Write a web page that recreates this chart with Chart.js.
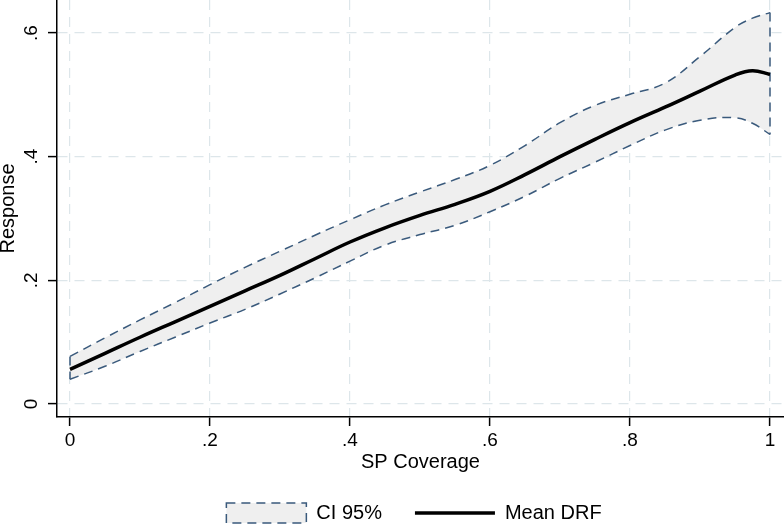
<!DOCTYPE html>
<html>
<head>
<meta charset="utf-8">
<script src="https://cdn.jsdelivr.net/npm/chart.js@4"></script>
<style>
  html, body { margin: 0; padding: 0; background: #fff; }
  #wrap { width: 784px; height: 524px; }
</style>
</head>
<body>
<div id="wrap"><canvas id="myChart"></canvas></div>
<script>
// values
const coverage = [0, 0.05, 0.1, 0.15, 0.2, 0.25, 0.3, 0.35, 0.4, 0.45, 0.5, 0.55, 0.6, 0.65, 0.7, 0.75, 0.8, 0.85, 0.9, 0.95, 0.975, 1];
const meanDRF = [0.056, 0.082, 0.108, 0.133, 0.158, 0.183, 0.208, 0.235, 0.262, 0.285, 0.305, 0.323, 0.344, 0.371, 0.400, 0.428, 0.455, 0.480, 0.506, 0.532, 0.539, 0.533];
const ciUpper = [0.077, 0.107, 0.136, 0.164, 0.193, 0.221, 0.247, 0.273, 0.298, 0.322, 0.343, 0.363, 0.386, 0.418, 0.455, 0.483, 0.501, 0.519, 0.562, 0.609, 0.624, 0.633];
const ciLower = [0.040, 0.061, 0.085, 0.108, 0.131, 0.153, 0.178, 0.204, 0.231, 0.257, 0.274, 0.289, 0.311, 0.336, 0.365, 0.391, 0.418, 0.443, 0.459, 0.463, 0.454, 0.436];
const xTicks = [0, 0.2, 0.4, 0.6, 0.8, 1];
const yTicks = [0, 0.2, 0.4, 0.6];
const legendLabels = ['CI 95%', 'Mean DRF'];

const navy = '#3a5a7c';
const bandFill = '#efefef';
const gridColor = '#dde6ea';

const pts = ys => coverage.map((x, i) => ({ x: x, y: ys[i] }));
const n = coverage.length - 1;
const fmt = v => v === 0 ? '0' : String(v).replace(/^0\./, '.');

Chart.defaults.font.family = '"Liberation Sans", Arial, sans-serif';
Chart.defaults.color = '#000';

// stata puts the legend a bit right of centre
const legendShift = {
    id: 'legendShift',
    afterLayout(chart) {
        chart.legend.left += 22;
        chart.legend.right += 22;
    }
};

const ctx = document.getElementById('myChart');
const myChart = new Chart(ctx, {
    type: 'line',
    data: {
        datasets: [{
            label: legendLabels[1],
            data: pts(meanDRF),
            borderColor: '#000',
            borderWidth: 3.5,
            tension: 0.4,
            pointRadius: 0,
            fill: false
        }, {
            label: legendLabels[0],
            data: pts(ciUpper),
            borderColor: navy,
            borderWidth: 1.5,
            borderDash: [9, 6],
            backgroundColor: bandFill,
            tension: 0.4,
            pointRadius: 0,
            fill: '+1'
        }, {
            label: 'lower',
            data: pts(ciLower),
            borderColor: navy,
            borderWidth: 1.5,
            borderDash: [9, 6],
            tension: 0.4,
            pointRadius: 0,
            fill: false
        }, {
            label: 'edgeL',
            data: [{ x: coverage[0], y: ciUpper[0] }, { x: coverage[0], y: ciLower[0] }],
            borderColor: navy,
            borderWidth: 1.5,
            borderDash: [9, 6],
            pointRadius: 0,
            fill: false
        }, {
            label: 'edgeR',
            data: [{ x: coverage[n], y: ciUpper[n] }, { x: coverage[n], y: ciLower[n] }],
            borderColor: navy,
            borderWidth: 1.5,
            borderDash: [9, 6],
            pointRadius: 0,
            fill: false
        }]
    },
    options: {
        responsive: true,
        maintainAspectRatio: false,
        animation: false,
        layout: { padding: { top: 0, left: 0, right: 0, bottom: -9 } },
        scales: {
            x: {
                type: 'linear',
                min: -0.0186,
                max: 1.02,
                afterBuildTicks: s => { s.ticks = xTicks.map(v => ({ value: v })); },
                afterFit: s => { s.height = 53; s.paddingLeft = 0; s.paddingRight = 0; },
                ticks: { callback: fmt, font: { size: 19 }, padding: 3, maxRotation: 0 },
                grid: { color: gridColor, lineWidth: 1.2, tickColor: '#000', tickWidth: 1.5, tickLength: 9, tickBorderDash: [] },
                border: { color: '#000', width: 1.5, dash: [10, 7] },
                title: { display: true, text: 'SP Coverage', font: { size: 20, lineHeight: 0.8 }, padding: { top: 0, bottom: 0 } }
            },
            y: {
                type: 'linear',
                min: -0.021,
                max: 0.6534,
                afterBuildTicks: s => { s.ticks = yTicks.map(v => ({ value: v })); },
                afterFit: s => { s.width = 57; s.paddingTop = 0; s.paddingBottom = 0; },
                ticks: { callback: fmt, font: { size: 19 }, padding: 8, minRotation: 90, maxRotation: 90, crossAlign: 'center' },
                grid: { color: gridColor, lineWidth: 1.2, tickColor: '#000', tickWidth: 1.5, tickLength: 9, tickBorderDash: [] },
                border: { color: '#000', width: 1.5, dash: [10, 7] },
                title: { display: true, text: 'Response', font: { size: 20, lineHeight: 0.8 }, padding: { top: 0, bottom: 0 } }
            }
        },
        plugins: {
            filler: { drawTime: 'beforeDatasetsDraw' },
            tooltip: { enabled: false },
            legend: {
                position: 'bottom',
                labels: {
                    font: { size: 20 },
                    padding: 33,
                    usePointStyle: true,
                    pointStyleWidth: 80,
                    boxHeight: 20,
                    generateLabels: () => [{
                        text: legendLabels[0],
                        fillStyle: bandFill,
                        strokeStyle: navy,
                        lineWidth: 1.5,
                        lineDash: [9, 6],
                        pointStyle: 'rect',
                        datasetIndex: 1,
                        hidden: false
                    }, {
                        text: legendLabels[1],
                        fillStyle: '#000',
                        strokeStyle: '#000',
                        lineWidth: 3.5,
                        pointStyle: 'line',
                        datasetIndex: 0,
                        hidden: false
                    }]
                }
            }
        }
    },
    plugins: [legendShift]
});
</script>
</body>
</html>
